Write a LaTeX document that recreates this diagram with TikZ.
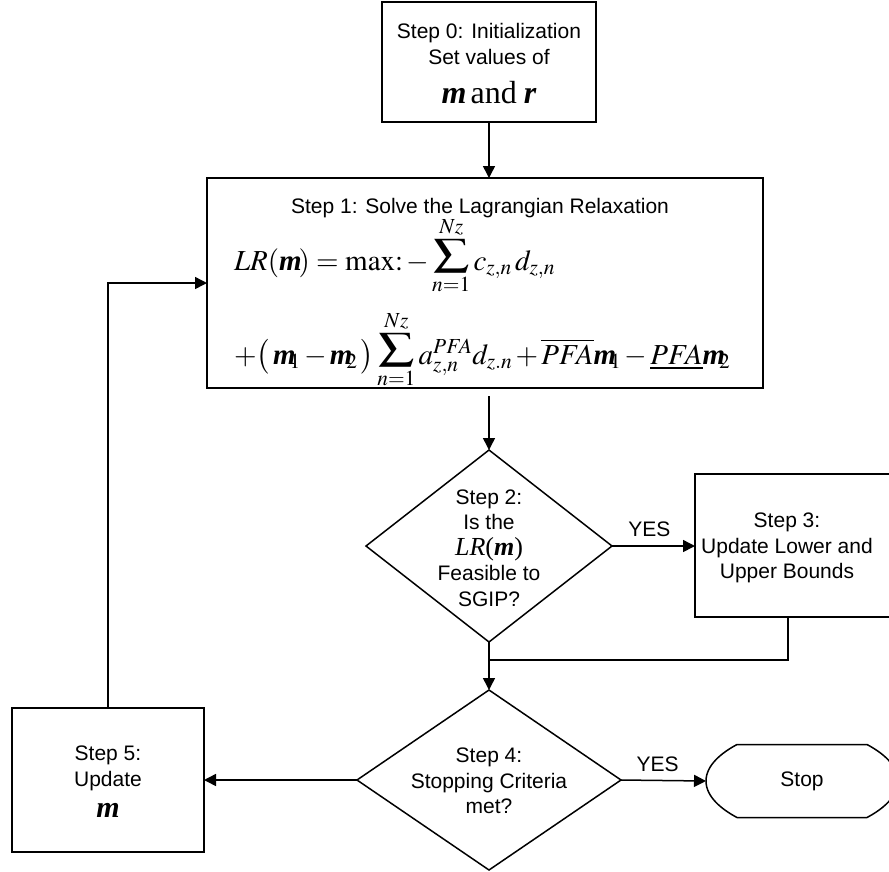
\documentclass[tikz,border=0pt]{standalone}
\usepackage{mathptmx}
\usepackage{graphicx}
\usepackage[no-math]{fontspec}
\setmainfont{Liberation Sans}
\newfontfamily\serifface{Liberation Serif}
\usetikzlibrary{shapes.geometric,arrows.meta,calc}
% bold italic multiplier symbol, with a tucked-in index
\newcommand{\mul}{\mbox{\serifface\bfseries\itshape m}}
\newcommand{\muli}[1]{\mul\kern-6pt{}_{#1}}
\newcommand{\tightmath}{\thickmuskip=4mu\medmuskip=2mu}
% wide summation sign resting near the baseline
\newcommand{\msum}{\mathop{\raisebox{7.5pt}{\scalebox{1.22}[0.93]{$\displaystyle\sum$}}}\limits}
\begin{document}
\begin{tikzpicture}[x=1pt,y=-1pt,
  line width=1.5pt,
  every node/.style={inner sep=0pt, outer sep=0pt},
  txt/.style={align=center, font=\fontsize{21}{25.5}\selectfont},
  eqline/.style={anchor=base west, font=\fontsize{29}{34}\selectfont},
  stepbox/.style={draw, rectangle},
  decision/.style={draw, diamond},
  flow/.style={-{Triangle[length=12pt,width=12pt]}},
  ylabel/.style={font=\fontsize{21}{25}\selectfont}]
\useasboundingbox (0,0) rectangle (889,871);

% Step 0
\node[stepbox, minimum width=214pt, minimum height=120pt] (s0) at (489,62) {};
\node[txt] (t0) at (489,64) {Step 0: Initialization\\Set values of\\[14pt]
  {\serifface\fontsize{32}{36}\selectfont\bfseries\itshape m\hspace{4pt}\mdseries\upshape and\hspace{7pt}\bfseries\itshape r}};

% Step 1
\node[stepbox, minimum width=556pt, minimum height=210pt] (s1) at (485,283) {};
\node[txt, anchor=base] (t1) at (480,213) {Step 1: Solve the Lagrangian Relaxation};
\node[eqline] (eq1) at (234,270)
  {$\tightmath LR(\mul\!)=\mathrm{max}{:}-\msum_{n=1}^{Nz}c_{z,n}\,d_{z,n}$};
\node[eqline] (eq2) at (234,364)
  {$\tightmath +\bigl(\,\muli{1}-\muli{2}\,\bigr)\msum_{n=1}^{Nz}a_{z,n}^{PFA}d_{z.n}+\overline{PFA}\muli{1}-\underline{PFA}\muli{2}$};

% Step 2
\node[decision, minimum width=246pt, minimum height=192pt] (d2) at (489,546) {};
\node[txt] (t2) at (489,548) {Step 2:\\Is the\\{\serifface\fontsize{26}{26}\selectfont\itshape LR\upshape(\bfseries\itshape m\mdseries\upshape)}\\Feasible to\\SGIP?};

% Step 3
\node[stepbox, minimum width=200pt, minimum height=143pt] (s3) at (795,545.5) {};
\node[txt] (t3) at (787,548) {Step 3:\\Update Lower and\\Upper Bounds};

% Step 4
\node[decision, minimum width=264pt, minimum height=180pt] (d4) at (489,780) {};
\node[txt] (t4) at (489,781) {Step 4:\\Stopping Criteria\\met?};

% Step 5
\node[stepbox, minimum width=192pt, minimum height=144pt] (s5) at (108,780) {};
\node[txt] (t5) at (108,782) {Step 5:\\Update\\[6pt]{\serifface\fontsize{30}{32}\selectfont\bfseries\itshape m}};

% Stop terminal
\node[minimum width=192pt, minimum height=73pt, font=\fontsize{21}{25}\selectfont] (stop) at (802,781) {Stop};
\draw ($(stop.north west)+(31,0)$) -- ($(stop.north east)+(-31,0)$)
  .. controls +(15,8) and +(0,-16) .. (stop.east)
  .. controls +(0,16) and +(15,-8) .. ($(stop.south east)+(-31,0)$)
  -- ($(stop.south west)+(31,0)$)
  .. controls +(-15,-8) and +(0,16) .. (stop.west)
  .. controls +(0,-16) and +(-15,8) .. cycle;

% connectors
\coordinate (s1out) at (489,396);
\coordinate (join) at (489,660);
\coordinate (s3out) at (788,617);
\draw[flow] (s0.south) -- (s0.south |- s1.north);
\draw[flow] (s1out) -- (d2.north);
\draw[flow] (d2.east) -- (d2.east -| s3.west) node[ylabel, pos=0.45, above=9pt] (y1) {YES};
\draw (d2.south) -- (join);
\draw (s3out) |- (join);
\draw[flow] (join) -- (d4.north);
\draw[flow] (d4.east) -- (stop.west) node[ylabel, pos=0.43, above=9pt] (y2) {YES};
\draw[flow] (d4.west) -- (s5.east);
\draw[flow] (s5.north) |- (s1.west);
\end{tikzpicture}
\end{document}
